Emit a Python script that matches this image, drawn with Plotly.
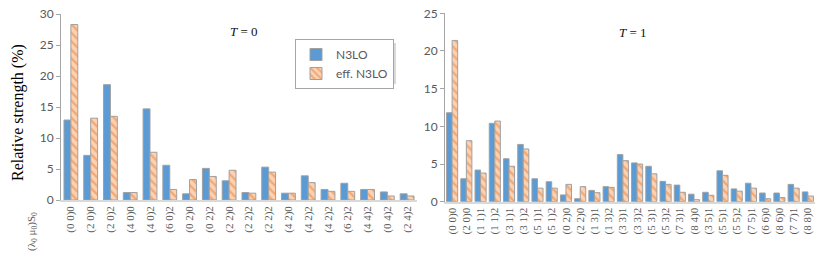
import plotly.graph_objects as go

# ---- data ----
t0_labels = ["(0 0)0", "(2 0)0", "(2 0)2", "(4 0)0", "(4 0)2", "(6 0)2", "(0 2)0", "(0 2)2",
             "(2 2)0", "(2 2)2", "(2 2)2", "(4 2)0", "(4 2)2", "(4 2)2", "(6 2)2", "(4 4)2",
             "(0 4)2", "(2 4)2"]
t0_n3lo = [12.9, 7.2, 18.6, 1.2, 14.7, 5.6, 1.0, 5.1, 3.1, 1.2, 5.3, 1.1, 3.9, 1.7, 2.7, 1.7, 1.3, 1.0]
t0_eff = [28.3, 13.2, 13.5, 1.2, 7.7, 1.7, 3.3, 3.8, 4.8, 1.1, 4.5, 1.1, 2.8, 1.4, 1.4, 1.7, 0.65, 0.65]

t1_labels = ["(0 0)0", "(2 0)0", "(1 1)1", "(1 1)2", "(3 1)1", "(3 1)2", "(5 1)1", "(5 1)2",
             "(0 2)0", "(2 2)0", "(1 3)1", "(1 3)2", "(3 3)1", "(3 3)2", "(5 3)1", "(5 3)2",
             "(7 3)1", "(8 4)0", "(3 5)1", "(5 5)1", "(5 5)2", "(7 5)1", "(6 6)0", "(8 6)0",
             "(7 7)1", "(8 8)0"]
t1_n3lo = [11.8, 3.05, 4.2, 10.4, 5.7, 7.6, 3.05, 2.65, 0.9, 0.4, 1.5, 2.0, 6.25, 5.15, 4.7, 2.7,
           2.2, 1.0, 1.25, 4.1, 1.7, 2.45, 1.15, 1.15, 2.3, 1.3]
t1_eff = [21.4, 8.1, 3.8, 10.7, 4.7, 7.0, 1.8, 1.8, 2.3, 2.0, 1.2, 1.9, 5.45, 5.0, 3.7, 2.3,
          1.25, 0.27, 0.85, 3.5, 1.4, 1.8, 0.4, 0.55, 1.8, 0.75]

series_names = ["N3LO", "eff. N3LO"]

BLUE = "#5B9BD5"
ORANGE = "#ED7D31"
PEACH = "#FAD3B6"
OUTLINE = "#A0A0A0"
GRAY_TXT = "#595959"
W = 822
H = 259

fig = go.Figure()

def add_pair(labels, n3lo, eff, xa, ya, w, show):
    idx = list(range(len(labels)))
    fig.add_trace(go.Bar(
        x=idx, y=n3lo, name=series_names[0], xaxis=xa, yaxis=ya,
        width=w, offset=-w, legendgroup="a", showlegend=show,
        marker=dict(color=BLUE, line=dict(color=OUTLINE, width=1)),
    ))
    fig.add_trace(go.Bar(
        x=idx, y=eff, name=series_names[1], xaxis=xa, yaxis=ya,
        width=w, offset=0, legendgroup="b", showlegend=show,
        marker=dict(color=PEACH, line=dict(color=OUTLINE, width=1),
                    pattern=dict(shape="\\", fgcolor=ORANGE, bgcolor=PEACH,
                                 size=6, solidity=0.4, fillmode="overlay")),
    ))

add_pair(t0_labels, t0_n3lo, t0_eff, "x", "y", 0.35, True)
add_pair(t1_labels, t1_n3lo, t1_eff, "x2", "y2", 0.39, False)

tickfont_x = dict(family="Liberation Serif", size=11, color=GRAY_TXT)
tickfont_y = dict(family="Lato", size=12, color=GRAY_TXT)

def xaxis_cfg(labels, dom, anchor):
    return dict(domain=dom, anchor=anchor, range=[-0.5, len(labels) - 0.5],
                tickmode="array", tickvals=list(range(len(labels))), ticktext=labels,
                tickangle=-90, tickfont=tickfont_x, showline=True, linecolor="#D9D9D9",
                linewidth=1.5, ticks="", showgrid=False, zeroline=False, fixedrange=True,
                automargin=False)

def yaxis_cfg(rng, dom, anchor):
    return dict(domain=dom, anchor=anchor, range=rng, dtick=5, tickfont=tickfont_y,
                showline=True, linecolor="#A6A6A6", linewidth=1, ticks="outside",
                ticklen=4, tickcolor="#A6A6A6", showgrid=False, zeroline=False,
                fixedrange=True, automargin=False)

ann_font = dict(family="Liberation Serif", size=13, color="#111111", weight="normal")

fig.update_layout(
    width=W, height=H,
    margin=dict(l=0, r=0, t=0, b=0, pad=0),
    paper_bgcolor="white", plot_bgcolor="white",
    barmode="overlay",
    xaxis=xaxis_cfg(t0_labels, [61 / W, 417 / W], "y"),
    yaxis=yaxis_cfg([0, 30], [1 - 200 / H, 1 - 14 / H], "x"),
    xaxis2=xaxis_cfg(t1_labels, [445 / W, 815 / W], "y2"),
    yaxis2=yaxis_cfg([0, 25], [1 - 201.7 / H, 1 - 13.3 / H], "x2"),
    legend=dict(x=295 / W, y=1 - 39 / H, xanchor="left", yanchor="top",
                bgcolor="white", bordercolor="#A6A6A6", borderwidth=1,
                font=dict(family="Lato", size=12, color=GRAY_TXT),
                itemwidth=30, tracegroupgap=0),
    showlegend=True,
    shapes=[dict(type="rect", xref="paper", yref="paper",
                 x0=299 / W, x1=396 / W, y0=1 - 84 / H, y1=1 - 43 / H,
                 fillcolor="rgba(0,0,0,0.15)", line=dict(width=0), layer="above")],
    annotations=[
        dict(text="<i>T</i> = 0", x=244 / W, y=1 - 32 / H, xref="paper", yref="paper",
             xanchor="center", yanchor="middle", showarrow=False, font=ann_font),
        dict(text="<i>T</i> = 1", x=633 / W, y=1 - 33 / H, xref="paper", yref="paper",
             xanchor="center", yanchor="middle", showarrow=False, font=ann_font),
        dict(text="Relative strength (%)", x=18 / W, y=1 - 113 / H, xref="paper", yref="paper",
             xanchor="center", yanchor="middle", showarrow=False, textangle=-90,
             font=dict(family="Liberation Serif", size=16, color="black")),
        dict(text="(λ<sub>0</sub> μ<sub>0</sub>)S<sub>0</sub>", x=32 / W, y=1 - 232 / H,
             xref="paper", yref="paper", xanchor="center", yanchor="middle",
             showarrow=False, textangle=-90,
             font=dict(family="Liberation Serif", size=11, color=GRAY_TXT)),
    ],
)

fig.write_html("out.html", config={"displayModeBar": False},
               post_script="document.body.style.margin='0';")
